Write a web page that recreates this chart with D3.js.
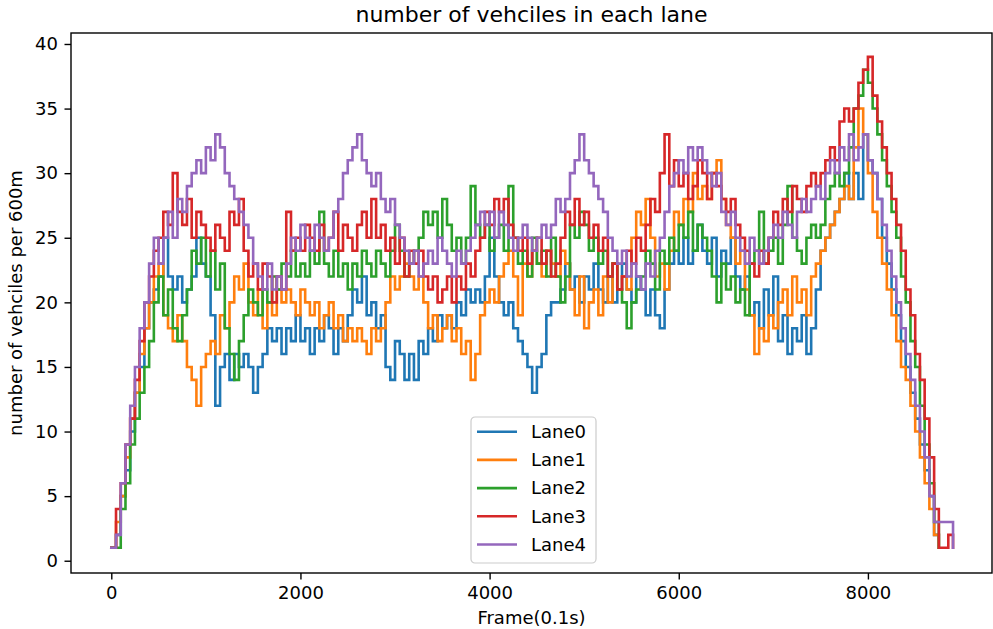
<!DOCTYPE html>
<html>
<head>
<meta charset="utf-8">
<script src="https://cdn.jsdelivr.net/npm/d3@7"></script>
<style>
  body { margin: 0; background: #ffffff; }
  svg text { font-family: "DejaVu Sans", sans-serif; fill: #000; }
</style>
</head>
<body>
<svg id="chart" width="993" height="629"></svg>
<script>
// ---- data (one sample every 50 frames) ----
const frameStep = 50;
const lane0 = [
  1,2,5,7,10,13,15,18,20,21,
  22,25,22,21,22,20,21,22,25,23,
  22,19,12,15,16,14,16,15,16,15,
  13,15,16,18,17,18,16,18,17,19,
  17,18,16,18,17,19,18,16,18,17,
  19,21,20,22,19,20,18,19,15,14,
  17,16,14,16,14,17,16,18,17,19,
  18,19,18,20,19,21,20,21,20,22,
  25,22,20,19,20,18,17,16,15,13,
  15,16,19,20,20,21,23,21,22,20,
  22,21,23,21,20,22,20,21,23,21,
  20,22,21,19,21,19,18,21,23,24,
  23,25,23,24,26,24,23,25,22,24,
  23,25,22,21,22,19,20,18,21,19,
  22,17,19,16,18,17,19,16,18,21,
  24,25,26,27,28,30,28,30,28,33,
  31,30,28,25,23,21,19,17,15,13,
  11,9,7,5,2,1
];
const lane1 = [
  1,3,5,8,11,13,16,18,20,22,
  23,19,18,17,19,17,15,14,12,15,
  16,17,16,19,18,20,22,21,23,20,
  19,21,18,20,19,21,20,21,20,19,
  21,20,19,20,18,19,20,18,19,17,
  18,17,18,17,16,18,17,18,20,22,
  21,22,23,22,21,22,20,18,19,17,
  18,19,17,18,16,17,14,16,19,20,
  21,20,22,23,24,22,19,23,22,24,
  23,22,24,23,22,24,23,21,19,22,
  18,20,21,19,22,20,23,21,22,21,
  25,27,26,28,25,22,23,21,24,27,
  26,28,27,30,28,29,28,30,31,28,
  26,25,23,24,21,19,16,18,17,19,
  18,20,21,19,22,20,21,19,22,23,
  24,25,26,27,28,29,28,32,35,33,
  30,27,25,23,21,19,17,15,14,12,
  10,8,6,4,2,1
];
const lane2 = [
  1,1,4,6,9,11,13,15,17,20,
  22,19,21,18,17,19,21,24,23,25,
  22,24,21,23,18,16,14,17,19,21,
  20,19,21,20,22,21,23,22,24,22,
  23,22,24,23,27,23,22,24,22,23,
  21,23,22,24,23,22,24,23,22,24,
  26,24,22,23,24,25,27,26,27,25,
  28,26,24,25,23,25,29,26,25,26,
  24,25,26,24,29,25,23,24,22,25,
  23,24,22,25,22,20,22,26,25,27,
  26,24,25,23,24,22,23,21,20,18,
  20,21,22,24,23,21,24,23,25,24,
  26,25,27,24,26,25,24,22,20,23,
  21,22,20,21,19,23,24,27,23,24,
  25,23,26,29,25,24,23,25,26,25,
  26,28,29,30,29,30,32,35,36,38,
  37,35,33,31,29,27,25,22,20,17,
  15,12,9,6,3,1
];
const lane3 = [
  1,4,6,9,11,14,17,20,22,24,
  25,27,26,30,27,26,28,25,27,26,
  25,24,26,25,24,27,26,28,24,22,
  23,21,23,22,20,22,21,27,24,25,
  24,26,25,24,26,24,25,27,24,26,
  25,24,26,27,25,28,25,26,24,25,
  23,25,22,24,23,24,22,21,22,20,
  21,22,20,22,21,23,22,24,25,27,
  26,28,27,28,26,25,24,25,23,24,
  25,23,24,22,23,25,27,26,28,26,
  27,25,26,24,25,22,23,21,22,24,
  23,25,24,26,28,27,30,33,29,31,
  29,30,28,29,31,30,28,30,29,28,
  27,28,26,25,24,23,22,24,23,25,
  27,26,28,27,29,28,27,29,30,29,
  30,31,32,31,34,35,34,35,37,38,
  39,36,34,32,30,28,26,24,21,19,
  16,14,11,8,4,1,1,2,1
];
const lane4 = [
  1,2,6,9,12,15,18,20,23,25,
  23,25,27,25,28,27,29,30,31,30,
  32,31,33,32,30,29,28,27,26,25,
  23,22,21,23,21,22,21,23,25,24,
  26,25,24,26,25,24,25,27,28,30,
  31,32,33,31,30,29,30,28,27,28,
  26,25,24,23,24,22,23,24,23,25,
  24,23,22,24,23,24,25,26,27,26,
  27,25,27,26,25,24,25,26,25,24,
  25,26,25,26,28,27,28,30,31,33,
  31,30,29,28,27,25,24,23,24,22,
  23,22,21,23,22,24,25,27,29,30,
  31,30,32,31,32,31,30,29,30,27,
  26,27,25,24,23,25,24,23,24,25,
  26,25,27,26,25,27,28,27,28,29,
  28,30,31,30,32,31,33,31,32,33,
  31,30,28,26,24,22,20,18,16,14,
  12,10,8,5,3,3,3,3,1
];
const laneNames = ["Lane0", "Lane1", "Lane2", "Lane3", "Lane4"];
const laneColors = ["#1f77b4", "#ff7f0e", "#2ca02c", "#d62728", "#9467bd"];
const xTickValues = [0, 2000, 4000, 6000, 8000];
const yTickValues = [0, 5, 10, 15, 20, 25, 30, 35, 40];
const titleText = "number of vehciles in each lane";
const xLabelText = "Frame(0.1s)";
const yLabelText = "number of vehciles per 600m";

// ---- layout ----
const plot = { left: 71, right: 992, top: 33, bottom: 573 };
const svg = d3.select("#chart");

const x = d3.scaleLinear().domain([-426, 9312]).range([plot.left, plot.right]);
const y = d3.scaleLinear().domain([-0.95, 40.85]).range([plot.bottom, plot.top]);

const lanes = [lane0, lane1, lane2, lane3, lane4].map((vals, k) => ({
  name: laneNames[k],
  color: laneColors[k],
  points: vals.map((v, i) => ({ f: i * frameStep, v: v }))
}));

// clip
svg.append("defs").append("clipPath").attr("id", "clip")
  .append("rect")
  .attr("x", plot.left).attr("y", plot.top)
  .attr("width", plot.right - plot.left).attr("height", plot.bottom - plot.top);

const line = d3.line()
  .x(d => x(d.f))
  .y(d => y(d.v))
  .curve(d3.curveStepAfter);

const g = svg.append("g").attr("clip-path", "url(#clip)");
g.selectAll("path.lane")
  .data(lanes)
  .join("path")
  .attr("class", "lane")
  .attr("d", d => line(d.points))
  .attr("fill", "none")
  .attr("stroke", d => d.color)
  .attr("stroke-width", 2.6)
  .attr("stroke-linejoin", "miter")
  .attr("stroke-linecap", "square");

// axes
const xAxis = d3.axisBottom(x).tickValues(xTickValues).tickSize(6.5).tickPadding(6.5).tickSizeOuter(0)
  .tickFormat(d3.format("d"));
const yAxis = d3.axisLeft(y).tickValues(yTickValues).tickSize(6.5).tickPadding(6.5).tickSizeOuter(0)
  .tickFormat(d3.format("d"));

const gx = svg.append("g").attr("transform", `translate(0,${plot.bottom})`).call(xAxis);
const gy = svg.append("g").attr("transform", `translate(${plot.left},0)`).call(yAxis);
[gx, gy].forEach(a => {
  a.select(".domain").remove();
  a.selectAll(".tick line").attr("stroke", "#000").attr("stroke-width", 1.4);
  a.selectAll(".tick text").attr("font-size", 18).attr("font-family", "DejaVu Sans, sans-serif").attr("fill", "#000");
});

// spines
svg.append("rect")
  .attr("x", plot.left).attr("y", plot.top)
  .attr("width", plot.right - plot.left).attr("height", plot.bottom - plot.top)
  .attr("fill", "none").attr("stroke", "#000").attr("stroke-width", 1.4);

// title and labels
svg.append("text")
  .attr("x", (plot.left + plot.right) / 2).attr("y", 22)
  .attr("text-anchor", "middle").attr("font-size", 22)
  .text(titleText);

svg.append("text")
  .attr("x", (plot.left + plot.right) / 2).attr("y", 624)
  .attr("text-anchor", "middle").attr("font-size", 18)
  .text(xLabelText);

svg.append("text")
  .attr("transform", `translate(22,${(plot.top + plot.bottom) / 2}) rotate(-90)`)
  .attr("text-anchor", "middle").attr("font-size", 18)
  .text(yLabelText);

// legend
const leg = svg.append("g").attr("transform", "translate(471,417)");
leg.append("rect")
  .attr("x", 0).attr("y", 0).attr("width", 125).attr("height", 146)
  .attr("rx", 4).attr("ry", 4)
  .attr("fill", "#fff").attr("fill-opacity", 0.8)
  .attr("stroke", "#cccccc").attr("stroke-width", 1.2);
const items = leg.selectAll("g.item").data(lanes).join("g")
  .attr("class", "item")
  .attr("transform", (d, i) => `translate(0,${14.7 + i * 28.2})`);
items.append("line")
  .attr("x1", 6).attr("x2", 46).attr("y1", 0).attr("y2", 0)
  .attr("stroke", d => d.color).attr("stroke-width", 2.6);
items.append("text")
  .attr("x", 60).attr("y", 0).attr("dy", "0.35em")
  .attr("font-size", 18)
  .text(d => d.name);
</script>
</body>
</html>
